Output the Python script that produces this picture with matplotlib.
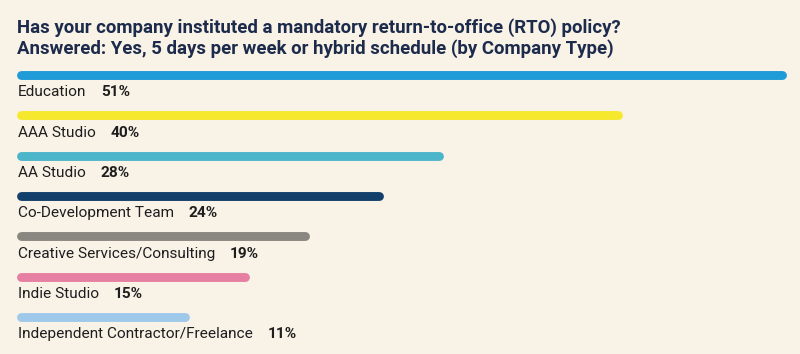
import matplotlib
matplotlib.use('Agg')
import matplotlib.pyplot as plt

categories = ['Education', 'AAA Studio', 'AA Studio', 'Co-Development Team',
              'Creative Services/Consulting', 'Indie Studio',
              'Independent Contractor/Freelance']
values = [51, 40, 28, 24, 19, 15, 11]
colors = ['#1f9bd7', '#f6e82c', '#4db5c9', '#133f6b', '#8a8780', '#e67fa1', '#9fc9eb']
title_lines = ['Has your company instituted a mandatory return-to-office (RTO) policy?',
               'Answered: Yes, 5 days per week or hybrid schedule (by Company Type)']

bg = '#f9f2e7'
plt.rcParams['font.family'] = ['Roboto', 'DejaVu Sans']

fig = plt.figure(figsize=(8, 3.54), dpi=100, facecolor=bg)
ax = fig.add_axes([0, 0, 1, 1])
ax.set_facecolor(bg)

px_per = 14.93
ax.set_xlim(-21 / px_per, (800 - 21) / px_per)
step = 40.33
ax.set_ylim((354 - 75) / step, -75 / step)
ax.axis('off')

for i, (v, c) in enumerate(zip(values, colors)):
    ax.plot([0, v], [i, i], color=c, lw=6.4, solid_capstyle='round')

fig.canvas.draw()
r = fig.canvas.get_renderer()
for i, (cat, v) in enumerate(zip(categories, values)):
    t = ax.annotate(cat, xy=(0, i), xytext=(-2.3, -12.5), textcoords='offset points',
                    fontsize=11.1, color='#1e1e1e', va='center', ha='left')
    bb = t.get_window_extent(r)
    # percentage placed after the label
    x0 = ax.transData.inverted().transform((bb.x1 + 15, 0))[0]
    ax.annotate(f'{v}%', xy=(x0, i), xytext=(0, -12.5), textcoords='offset points',
                fontsize=11.1, color='#1e1e1e', fontweight='bold', va='center', ha='left')

fig.text(17 / 800, 1 - 28 / 354, title_lines[0], fontsize=13.4, fontweight='bold',
         color='#1c2b4b', va='center', ha='left')
fig.text(17 / 800, 1 - 49 / 354, title_lines[1], fontsize=13.4, fontweight='bold',
         color='#1c2b4b', va='center', ha='left')

fig.savefig('out.png', dpi=100, facecolor=bg)
